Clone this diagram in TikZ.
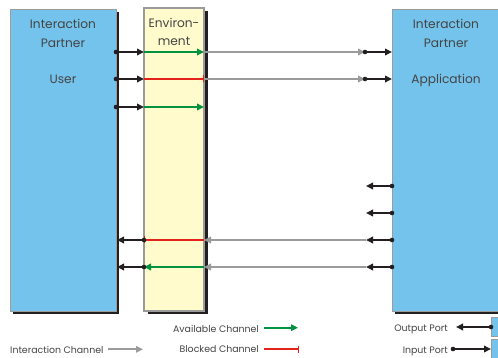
\documentclass[tikz,border=0pt]{standalone}
\usepackage{fontspec}
\setmainfont{Poppins}
\usetikzlibrary{arrows.meta,shadows}
\definecolor{boxblue}{HTML}{74C3EC}
\definecolor{boxyellow}{HTML}{FFFBCC}
\definecolor{chgreen}{HTML}{00923F}
\definecolor{chred}{HTML}{E3231B}
\definecolor{chgray}{HTML}{9B9B9B}
\definecolor{ink}{HTML}{231F20}
\definecolor{txt}{HTML}{444444}
\begin{document}
\begin{tikzpicture}[x=1pt,y=-1pt,
  partner/.style={draw=chgray, line width=0.8pt, fill=boxblue, inner sep=0pt, outer sep=0pt, anchor=north west,
    drop shadow={shadow xshift=3pt, shadow yshift=-3pt, fill=ink, opacity=1}},
  envbox/.style={draw=chgray, line width=1.2pt, fill=boxyellow, inner sep=0pt, outer sep=0pt, anchor=north west,
    drop shadow={shadow xshift=4pt, shadow yshift=-3pt, fill=ink, opacity=1}},
  portbox/.style={draw=chgray, line width=0.8pt, fill=boxblue, inner sep=0pt, outer sep=0pt, anchor=north west},
  boxtext/.style={font=\fontsize{12.2}{14}\selectfont, text=txt, anchor=base, inner sep=0pt},
  legtext/.style={font=\fontsize{9.4}{11}\selectfont, text=txt, anchor=base east, inner sep=0pt},
  portline/.style={draw=ink, line width=1.8pt, -{Triangle[length=7pt,width=6.5pt]}},
  okline/.style={draw=chgreen, line width=1.8pt, -{Triangle[length=7pt,width=6.5pt]}},
  blockline/.style={draw=chred, line width=1.8pt, -{Bar[width=7pt,line width=1.2pt]}},
  chanline/.style={draw=chgray, line width=1.8pt, -{Triangle[length=7pt,width=6.5pt]}},
  portdot/.style={fill=ink, circle, inner sep=0pt, minimum size=4.6pt}
]
\useasboundingbox (0,0) rectangle (498,358);
\clip (0,0) rectangle (498,358);
\fill[white] (0,0) rectangle (498,358);

% boxes
\node[partner, minimum width=106pt, minimum height=302pt] (user) at (10,9) {};
\node[envbox, minimum width=60pt, minimum height=303pt] (env) at (144,8) {};
\node[partner, minimum width=108pt, minimum height=302pt] (app) at (392,9) {};

% box texts
\node[boxtext] (u1) at (63,29) {Interaction};
\node[boxtext] (u2) at (63,48) {Partner};
\node[boxtext] (u3) at (63,84) {User};
\node[boxtext] (e1) at (174,28) {Environ-};
\node[boxtext] (e2) at (174,46) {ment};
\node[boxtext] (a1) at (446,29) {Interaction};
\node[boxtext] (a2) at (446,48) {Partner};
\node[boxtext] (a3) at (446,84) {Application};

% port coordinates
\foreach \n/\y in {1/52,2/79,3/107} {
  \coordinate (uo\n) at (116,\y);
  \coordinate (el\n) at (144,\y);
  \coordinate (er\n) at (204,\y);
}
\foreach \n/\y in {1/52,2/79} {
  \coordinate (mr\n) at (365,\y);
  \coordinate (ai\n) at (392,\y);
}
\foreach \n/\y in {4/186,5/213,6/240,7/267} {
  \coordinate (ao\n) at (392,\y);
  \coordinate (ml\n) at (366,\y);
}
\foreach \n/\y in {6/240,7/267} {
  \coordinate (er\n) at (204,\y);
  \coordinate (el\n) at (144,\y);
  \coordinate (ui\n) at (117,\y);
}

% user -> application channels
\draw[chanline] (er1) -- (mr1);
\draw[chanline] (er2) -- (mr2);
\draw[okline] (el1) -- (er1);
\draw[blockline] (el2) -- (er2);
\draw[okline] (el3) -- (er3);
\foreach \n in {1,2,3} {
  \draw[portline] (uo\n) -- (el\n);
  \node[portdot] (du\n) at (uo\n) {};
}
\foreach \n in {1,2} {
  \draw[portline] (mr\n) -- (ai\n);
  \node[portdot] (dm\n) at (mr\n) {};
}

% application -> user channels
\draw[chanline] (ml6) -- (er6);
\draw[chanline] (ml7) -- (er7);
\draw[blockline] (er6) -- (el6);
\draw[okline] (er7) -- (el7);
\foreach \n in {4,5,6,7} {
  \draw[portline] (ao\n) -- (ml\n);
  \node[portdot] (da\n) at (ao\n) {};
}
\foreach \n in {6,7} {
  \draw[portline] (el\n) -- (ui\n);
  \node[portdot] (de\n) at (el\n) {};
}

% legend
\node[legtext] (lavail) at (259,332.3) {Available Channel};
\coordinate (ga) at (264,327.7);
\coordinate (gb) at (298,327.7);
\draw[okline] (ga) -- (gb);

\node[legtext] (lblock) at (259,352.7) {Blocked Channel};
\coordinate (ra) at (264,349.3);
\coordinate (rb) at (299,349.3);
\draw[blockline] (ra) -- (rb);

\node[legtext, anchor=base west] (lint) at (10,353.7) {Interaction Channel};
\coordinate (ia) at (108,349.3);
\coordinate (ib) at (143,349.3);
\draw[chanline] (ia) -- (ib);

\node[portbox, minimum width=10pt, minimum height=19pt] (obox) at (491,317) {};
\node[portbox, minimum width=10pt, minimum height=19pt] (ibox) at (491,339) {};
\node[legtext] (lout) at (448,331.5) {Output Port};
\node[legtext] (lin) at (448,353) {Input Port};
\coordinate (oa) at (491,327);
\coordinate (ob) at (456,327);
\draw[portline] (oa) -- (ob);
\node[portdot] (doa) at (oa) {};
\coordinate (pa) at (453,349);
\coordinate (pb) at (491,349);
\draw[portline] (pa) -- (pb);
\node[portdot] (dpa) at (pa) {};
\end{tikzpicture}
\end{document}
